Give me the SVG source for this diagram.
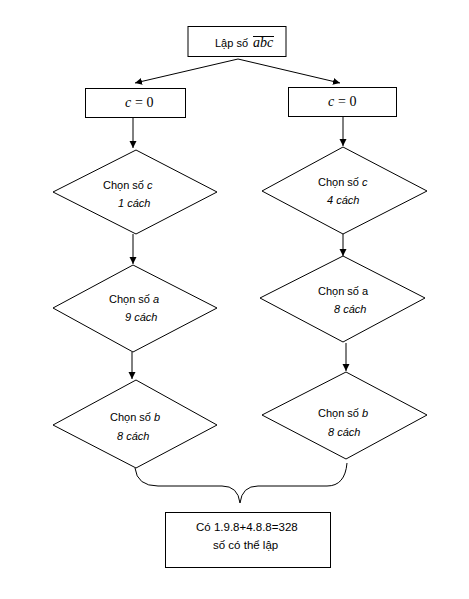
<svg xmlns="http://www.w3.org/2000/svg" width="469" height="599" viewBox="0 0 469 599">
<defs>
<style>
.box{fill:#fff;stroke:#000;stroke-width:1}
.dia{fill:#fff;stroke:#000;stroke-width:1}
.t{font-family:"Liberation Sans","Noto Sans",sans-serif;font-size:11px;fill:#000}
.i{font-style:italic}
.m{font-family:"Liberation Serif","DejaVu Serif",serif;font-size:14px;font-style:italic;fill:#000}
.mn{font-family:"Liberation Serif","DejaVu Serif",serif;font-size:14px;fill:#000}
.c{fill:none;stroke:#000;stroke-width:1}
</style>
<marker id="ah" markerWidth="8" markerHeight="8" refX="7" refY="4" orient="auto" markerUnits="userSpaceOnUse">
<path d="M0,0.5 L7,4 L0,7.5 Z" fill="#000"/>
</marker>
</defs>
<rect width="469" height="599" fill="#fff"/>
<g id="connectors">
<line class="c" x1="238" y1="59" x2="135" y2="83" marker-end="url(#ah)"/>
<line class="c" x1="238" y1="59" x2="340" y2="83" marker-end="url(#ah)"/>
<line class="c" x1="133" y1="118" x2="133" y2="148" marker-end="url(#ah)"/>
<line class="c" x1="343" y1="117" x2="343" y2="146" marker-end="url(#ah)"/>
<line class="c" x1="133" y1="234" x2="133" y2="264" marker-end="url(#ah)"/>
<line class="c" x1="343" y1="234" x2="343" y2="256" marker-end="url(#ah)"/>
<line class="c" x1="132" y1="352" x2="132" y2="379" marker-end="url(#ah)"/>
<line class="c" x1="346" y1="343" x2="346" y2="371" marker-end="url(#ah)"/>
<path class="c" d="M135,468 Q137,486 158,486 L222,486 Q238,486 240,503 Q242,486 258,486 L327,486 Q345,486 347,463"/>
</g>
<g id="start">
<rect class="box" x="188" y="26.5" width="98" height="30"/>
<text class="t" x="215" y="47">Lập số</text>
<text class="m" x="253" y="47">abc</text>
<line x1="253" y1="36.5" x2="274" y2="36.5" stroke="#000" stroke-width="1"/>
</g>
<g id="left-c0">
<rect class="box" x="85.5" y="88.5" width="100" height="29"/>
<text class="m" x="125" y="107">c</text>
<text class="mn" x="135" y="107">= 0</text>
</g>
<g id="right-c0">
<rect class="box" x="288.5" y="87.5" width="108" height="29"/>
<text class="m" x="328" y="106">c</text>
<text class="mn" x="338" y="106">= 0</text>
</g>
<g id="left-c">
<polygon class="dia" points="136,150 217,192 136,234 53,192"/>
<text class="t" x="103" y="189">Chọn số <tspan class="i">c</tspan></text>
<text class="t i" x="118" y="207">1 cách</text>
</g>
<g id="right-c">
<polygon class="dia" points="343,147 427,191 343,234 262,191"/>
<text class="t" x="318" y="186">Chọn số <tspan class="i">c</tspan></text>
<text class="t i" x="327" y="204">4 cách</text>
</g>
<g id="left-a">
<polygon class="dia" points="133,265 217,308 133,352 53,308"/>
<text class="t" x="109" y="303">Chọn số <tspan class="i">a</tspan></text>
<text class="t i" x="125" y="321">9 cách</text>
</g>
<g id="right-a">
<polygon class="dia" points="343,256 425,298 343,342 260,298"/>
<text class="t" x="318" y="295">Chọn số a</text>
<text class="t i" x="334" y="313">8 cách</text>
</g>
<g id="left-b">
<polygon class="dia" points="136,380 217,425 136,468 53,425"/>
<text class="t" x="110" y="421">Chọn số <tspan class="i">b</tspan></text>
<text class="t i" x="117" y="440">8 cách</text>
</g>
<g id="right-b">
<polygon class="dia" points="346,372 427,415 346,459 262,415"/>
<text class="t" x="318" y="417">Chọn số <tspan class="i">b</tspan></text>
<text class="t i" x="328" y="436">8 cách</text>
</g>
<g id="result">
<rect class="box" x="165.5" y="512.5" width="165" height="55"/>
<text class="t" x="196" y="531" style="font-size:11.5px">Có 1.9.8+4.8.8=328</text>
<text class="t" x="213" y="549" style="font-size:11.5px">số có thể lập</text>
</g>
</svg>
